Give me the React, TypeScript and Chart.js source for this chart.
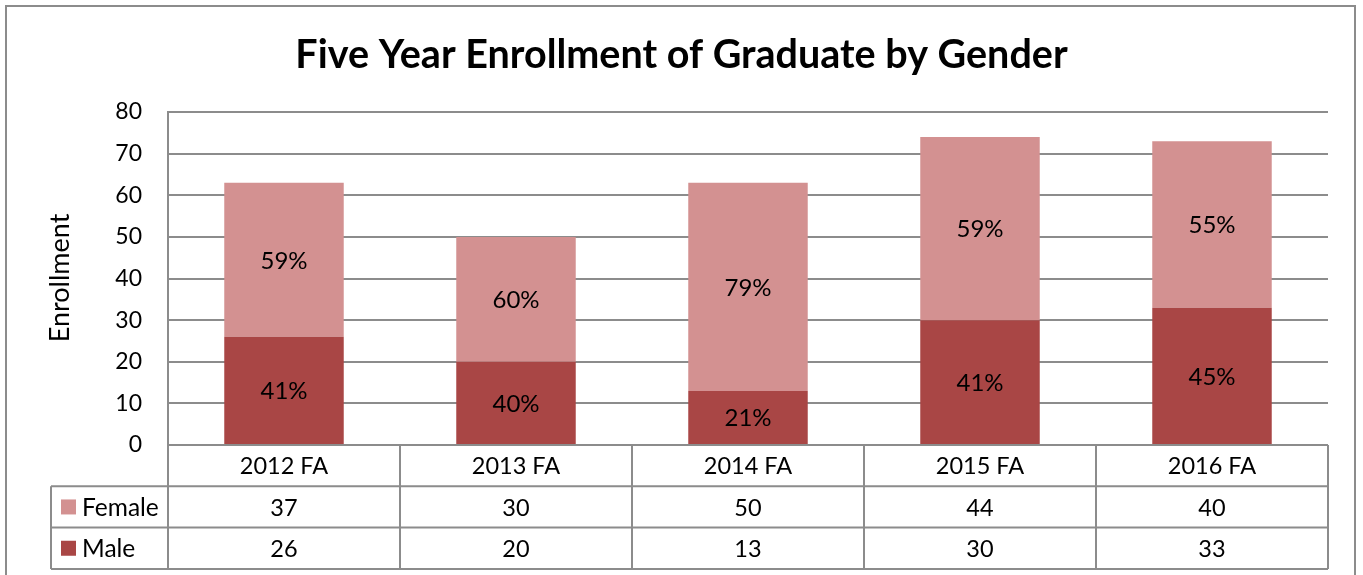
import React, { useEffect, useRef } from "react";
import { Chart, registerables } from "chart.js";

Chart.register(...registerables);

const TITLE = "Five Year Enrollment of Graduate by Gender";
const Y_TITLE = "Enrollment";
const categories = ["2012 FA", "2013 FA", "2014 FA", "2015 FA", "2016 FA"];
const female = [37, 30, 50, 44, 40];
const male = [26, 20, 13, 30, 33];
const yMin = 0;
const yMax = 80;
const yStep = 10;

const FEMALE_COLOR = "#D39191";
const MALE_COLOR = "#A94645";
const GRID_COLOR = "#8C8C8C";
const FONT = "Lato, 'Open Sans', sans-serif";

const tablePlugin = {
  id: "tablePlugin",
  afterDraw(chart: any) {
    const ctx = chart.ctx as CanvasRenderingContext2D;
    const { left, right, bottom } = chart.chartArea;
    const W = chart.width;
    ctx.save();
    // title
    ctx.fillStyle = "#000";
    ctx.textAlign = "center";
    ctx.textBaseline = "middle";
    ctx.font = `bold 39.5px ${FONT}`;
    ctx.fillText(TITLE, W / 2, 55);

    // y title
    ctx.save();
    ctx.translate(60, 278);
    ctx.rotate(-Math.PI / 2);
    ctx.font = `27px ${FONT}`;
    ctx.fillText(Y_TITLE, 0, 0);
    ctx.restore();

    // data labels (percent)
    const totals = categories.map((_, i) => female[i] + male[i]);
    ctx.font = `24px ${FONT}`;
    chart.data.datasets.forEach((ds: any, di: number) => {
      const meta = chart.getDatasetMeta(di);
      meta.data.forEach((bar: any, i: number) => {
        const p = bar.getProps(["x", "y", "base"], true);
        const pct = Math.round((ds.data[i] / totals[i]) * 100) + "%";
        ctx.fillText(pct, p.x, (p.y + p.base) / 2 + 1);
      });
    });

    // data table
    const rowH = 41.3;
    const legendLeft = 51;
    const n = categories.length;
    const colW = (right - left) / n;
    ctx.strokeStyle = GRID_COLOR;
    ctx.lineWidth = 2;
    ctx.beginPath();
    ctx.moveTo(left, bottom);
    ctx.lineTo(left, bottom + rowH * 3);
    for (let i = 1; i <= n; i++) {
      const x = left + colW * i;
      ctx.moveTo(x, bottom);
      ctx.lineTo(x, bottom + rowH * 3);
    }
    ctx.moveTo(left, bottom);
    ctx.lineTo(right, bottom);
    for (let r = 1; r <= 3; r++) {
      ctx.moveTo(legendLeft, bottom + rowH * r);
      ctx.lineTo(right, bottom + rowH * r);
    }
    ctx.moveTo(legendLeft, bottom + rowH);
    ctx.lineTo(legendLeft, bottom + rowH * 3);
    ctx.stroke();

    ctx.fillStyle = "#000";
    ctx.font = `23.5px ${FONT}`;
    categories.forEach((c, i) => {
      const cx = left + colW * (i + 0.5);
      ctx.fillText(c, cx, bottom + rowH * 0.5 + 1);
      ctx.fillText(String(female[i]), cx, bottom + rowH * 1.5 + 1);
      ctx.fillText(String(male[i]), cx, bottom + rowH * 2.5 + 1);
    });
    // legend keys
    const rows = [
      { label: "Female", color: FEMALE_COLOR },
      { label: "Male", color: MALE_COLOR },
    ];
    ctx.font = `24.5px ${FONT}`;
    rows.forEach((r, k) => {
      const cy = bottom + rowH * (1.5 + k);
      ctx.fillStyle = r.color;
      ctx.fillRect(61, cy - 7.5, 15, 15);
      ctx.fillStyle = "#000";
      ctx.textAlign = "left";
      ctx.fillText(r.label, 82, cy + 1);
    });

    // outer border
    ctx.strokeStyle = GRID_COLOR;
    ctx.lineWidth = 2;
    ctx.strokeRect(6, 6, 1349, 620);
    ctx.restore();
  },
};

export default function App() {
  const ref = useRef<HTMLCanvasElement | null>(null);
  useEffect(() => {
    document.body.style.margin = "0";
    const canvas = ref.current!;
    const chart = new Chart(canvas, {
      type: "bar",
      data: {
        labels: categories,
        datasets: [
          { label: "Male", data: male, backgroundColor: MALE_COLOR, categoryPercentage: 1, barPercentage: 0.515 },
          { label: "Female", data: female, backgroundColor: FEMALE_COLOR, categoryPercentage: 1, barPercentage: 0.515 },
        ],
      },
      options: {
        responsive: false,
        animation: false,
        layout: { padding: { top: 112, bottom: 130, left: 0, right: 35 } },
        plugins: { legend: { display: false }, title: { display: false }, tooltip: { enabled: false } },
        scales: {
          x: { stacked: true, display: false, offset: true },
          y: {
            stacked: true,
            min: yMin,
            max: yMax,
            ticks: { stepSize: yStep, color: "#000", font: { size: 23, family: FONT }, padding: 26 },
            grid: { color: GRID_COLOR, lineWidth: 2, drawTicks: false },
            border: { display: true, color: GRID_COLOR, width: 2 },
            afterFit(scale: any) {
              scale.width = 168;
            },
          },
        },
      },
      plugins: [tablePlugin],
    });
    return () => chart.destroy();
  }, []);
  return <canvas ref={ref} width={1363} height={575} style={{ display: "block" }} />;
}
